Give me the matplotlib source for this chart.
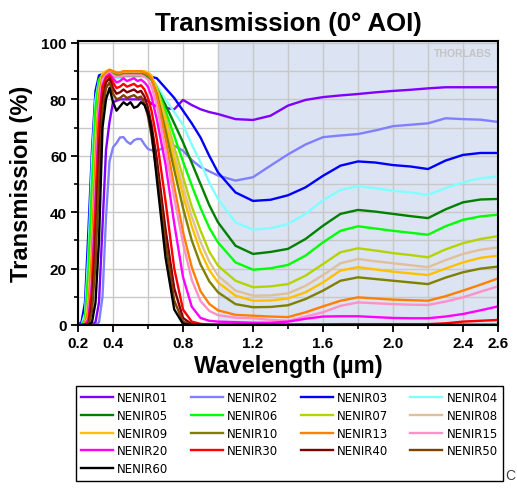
import matplotlib.pyplot as plt

plt.rcParams['font.family'] = ['Liberation Sans', 'DejaVu Sans']

# wavelength grid (um) and transmission (%)
wavelength = [0.20, 0.22, 0.24, 0.26, 0.28, 0.30, 0.32, 0.34, 0.36, 0.38,
              0.40, 0.42, 0.44, 0.46, 0.48, 0.50, 0.52, 0.54, 0.56, 0.58, 0.60, 0.62,
              0.65, 0.70, 0.75, 0.80, 0.85, 0.90, 0.95, 1.00,
              1.10, 1.20, 1.30, 1.40, 1.50, 1.60, 1.70, 1.80, 1.90, 2.00, 2.10, 2.20, 2.30, 2.40, 2.50, 2.60]

nenir01 = [0, 0, 0, 0, 0, 1, 8, 35, 62, 72,
           79, 79.5, 80, 80, 80, 80, 80, 80, 80, 80, 79.5, 78.5,
           77.5, 77, 76.5, 79.8, 78, 76.5, 75.5, 74.8,
           73, 72.7, 74.2, 77.8, 79.8, 80.8, 81.4, 81.9, 82.5, 83, 83.4, 83.9, 84.3, 84.3, 84.3, 84.3]
nenir02 = [0, 0, 0, 0, 0, 0, 1, 10, 38, 58,
           63, 64.5, 66.5, 66.6, 65, 64.2, 65.5, 66, 65.9, 64, 62.4, 62,
           61.8, 63, 63.6, 61.8, 58.5, 56, 54.5, 53,
           51.2, 52.4, 56.5, 60.5, 64, 66.6, 67.2, 67.7, 69, 70.5, 71, 71.5, 73.3, 73, 72.8, 72]
nenir03 = [0, 1, 8, 34, 62, 83, 88.5, 89, 89, 89,
           88.5, 88, 88, 88.5, 88.5, 88.5, 88.5, 88.5, 88.5, 88.5, 88.3, 88,
           87.5, 84, 80.5, 76, 71.5, 66.5, 60, 54.1,
           47, 44, 44.4, 46, 48.8, 52.9, 56.5, 58, 57.6, 56.7, 56.2, 55.3, 58.3, 60.3, 61, 61]
nenir04 = [0, 0, 4, 26, 58, 80, 87, 88, 88, 88.5,
           88, 87.5, 87.5, 88, 88, 88, 88, 88, 88, 88, 87.5, 87,
           85, 80, 75.5, 71, 64, 57.7, 50.5, 44.7,
           36.4, 33.8, 34.3, 35.8, 39.4, 44.2, 47.9, 49.2, 48.5, 47.6, 47, 46.1, 48.5, 50.6, 52, 52.7]
nenir05 = [0, 0, 1, 15, 42, 72, 85, 88.5, 88.5, 89,
           88.5, 88, 88, 88.5, 88.5, 88.5, 88.5, 88.5, 88.5, 88.5, 88, 87,
           84, 78, 71.5, 64.8, 57.5, 50, 42.5, 36.4,
           28.1, 25.2, 25.9, 27, 30.5, 35.2, 39.4, 40.8, 40.2, 39.4, 38.6, 37.9, 41, 43.5, 44.5, 44.7]
nenir06 = [0, 0, 2, 20, 50, 77, 87, 89, 89, 89.5,
           89, 88.5, 88.5, 89, 89, 89, 89, 89, 89, 89, 88.5, 87.5,
           84, 76, 67, 58, 49.5, 41.5, 34.5, 29.3,
           22.2, 19.6, 20.1, 21.3, 24.6, 29.3, 33.4, 35, 34.2, 33.4, 32.7, 32, 35, 37.3, 38.5, 39.1]
nenir07 = [0, 0, 0.5, 10, 33, 66, 84, 89, 89.5, 90,
           89.5, 89, 89, 89.5, 89.5, 89.5, 89.5, 89.5, 89.5, 89.5, 89, 88,
           84, 74, 63, 52.5, 42, 33.5, 26, 21,
           15.7, 13.4, 13.7, 14.5, 17.5, 21.6, 25.8, 27.2, 26.4, 25.5, 24.8, 24, 26.8, 29, 30.5, 31.5]
nenir08 = [0, 0, 0.5, 8, 30, 63, 83, 89, 89.5, 90,
           89.5, 89, 89, 89.5, 89.5, 89.5, 89.5, 89.5, 89.5, 89.5, 89, 88,
           83.5, 72.5, 60.5, 49, 38.5, 29.5, 22.5, 17.5,
           12.2, 10.4, 10.5, 11.2, 13.9, 17.7, 21.9, 23.4, 22.6, 21.9, 21.2, 20.5, 23, 25.2, 26.7, 27.5]
nenir09 = [0, 0, 0.5, 7, 27, 60, 82, 89, 90, 90.5,
           90, 89.5, 89.5, 90, 90, 90, 90, 90, 90, 90, 89.5, 88.5,
           83.5, 71.5, 58.5, 46, 35, 26, 19.5, 15.1,
           10.4, 8.6, 8.7, 9.4, 11.6, 15.1, 19.3, 20.5, 19.7, 18.9, 18.3, 17.7, 20, 22.2, 23.8, 24.6]
nenir10 = [0, 0, 0, 5, 23, 55, 80, 88, 89, 89.5,
           89, 88.5, 88.5, 89, 89, 89, 89, 89, 89, 89, 88.5, 87,
           82, 69, 55, 41.5, 30, 21.5, 15.5, 11.6,
           7.4, 6.3, 6.4, 7, 9.2, 12.2, 15.7, 16.9, 16.3, 15.7, 15.1, 14.5, 16.8, 18.7, 20, 20.7]
nenir13 = [0, 0, 0, 5, 24, 56, 80, 88, 89.5, 90.5,
           90, 89.5, 89.5, 90, 90, 90, 90, 90, 90, 89.5, 89, 87.5,
           81, 66, 49, 33, 20.5, 12, 7.5, 5.2,
           3.6, 3.3, 3, 2.8, 4.5, 6.6, 8.6, 9.8, 9.4, 9, 8.8, 8.6, 10.2, 12.2, 14.3, 16.5]
nenir15 = [0, 0, 0, 3, 18, 48, 77, 87, 88.5, 89.5,
           88.5, 88, 88, 88.5, 88.5, 88.5, 88.5, 88.5, 88.5, 88, 87, 84.5,
           78, 62, 45, 29, 16, 8.5, 5, 3.5,
           2.6, 2.4, 1.8, 1.5, 3, 4.5, 6.8, 8, 7.7, 7.4, 7.2, 7.1, 8.3, 9.8, 11.8, 13.7]
nenir20 = [0, 0, 0, 2, 15, 44, 74, 85, 88, 89,
           87.5, 86, 86.5, 87.5, 86.5, 87, 87.5, 86.5, 87, 86, 84.5, 81,
           73, 57, 36, 17, 6.5, 2.5, 1.5, 1.2,
           1, 0.8, 0.8, 1.2, 2.2, 3, 3.1, 3.1, 2.8, 2.5, 2.4, 2.4, 3, 3.9, 5.2, 6.6]
nenir30 = [0, 0, 0, 1, 12, 40, 70, 84, 87.5, 88.5,
           86, 84, 84.5, 85.5, 84.5, 85, 85.5, 84.5, 85, 83.5, 80.5, 76,
           66, 44, 20, 5.5, 1.2, 0.4, 0.2, 0.1,
           0.1, 0.1, 0.1, 0.1, 0.2, 0.2, 0.3, 0.3, 0.3, 0.3, 0.3, 0.3, 0.6, 1.2, 1.5, 1.8]
nenir40 = [0, 0, 0, 0, 8, 30, 62, 80, 86, 87.5,
           84, 82, 82.5, 83.5, 82.5, 83, 83.5, 82.5, 83, 81, 77, 71,
           59, 34, 13, 2.5, 0.3, 0, 0, 0,
           0, 0, 0, 0, 0, 0, 0, 0, 0, 0, 0, 0, 0, 0, 0, 0]
nenir50 = [0, 0, 0, 0, 5, 22, 52, 76, 84, 86,
           82, 80, 80.5, 81.5, 80.5, 81, 81.5, 80.5, 81, 78.5, 74, 67,
           54, 29.3, 8.6, 1.2, 0.1, 0, 0, 0,
           0, 0, 0, 0, 0, 0, 0, 0, 0, 0, 0, 0, 0, 0, 0, 0]
nenir60 = [0, 0, 0, 0, 1, 8, 30, 70, 80, 84,
           79, 76, 77.5, 79, 78, 79, 77, 77.5, 79, 78, 75, 69,
           52, 24, 5.5, 0.4, 0, 0, 0, 0,
           0, 0, 0, 0, 0, 0, 0, 0, 0, 0, 0, 0, 0, 0, 0, 0]

labels = ['NENIR01', 'NENIR02', 'NENIR03', 'NENIR04', 'NENIR05', 'NENIR06',
          'NENIR07', 'NENIR08', 'NENIR09', 'NENIR10', 'NENIR13', 'NENIR15',
          'NENIR20', 'NENIR30', 'NENIR40', 'NENIR50', 'NENIR60']
colors = ['#8000ff', '#8080ff', '#0000ff', '#80ffff', '#008000', '#00ff00',
          '#b4d400', '#e0c098', '#ffc000', '#808000', '#ff8000', '#ff90c8',
          '#ff00ff', '#ff0000', '#800000', '#804000', '#000000']
series = [nenir01, nenir02, nenir03, nenir04, nenir05, nenir06, nenir07, nenir08,
          nenir09, nenir10, nenir13, nenir15, nenir20, nenir30, nenir40, nenir50, nenir60]

fig = plt.figure(figsize=(5.17, 4.89), dpi=100)
ax = fig.add_axes([78 / 517, 1 - 326 / 489, 420 / 517, 284 / 489])

# NIR region shading
ax.axvspan(1.0, 2.6, color='#dce3f3', lw=0, zorder=0)

lines = []
for lab, col, vals in zip(labels, colors, series):
    ln, = ax.plot(wavelength, vals, color=col, lw=1.7, label=lab)
    lines.append(ln)

ax.set_xlim(0.2, 2.6)
ax.set_ylim(0, 100.7)
ax.set_xticks([0.2, 0.4, 0.8, 1.2, 1.6, 2.0, 2.4, 2.6])
ax.set_xticklabels(['0.2', '0.4', '0.8', '1.2', '1.6', '2.0', '2.4', '2.6'])
ax.set_xticks([0.6, 1.0, 1.4, 1.8, 2.2], minor=True)
ax.set_yticks([0, 20, 40, 60, 80, 100])
ax.set_yticks([10, 30, 50, 70, 90], minor=True)
ax.set_axisbelow(True)
ax.grid(True, which='both', color='#c8c8c8', lw=1)
ax.tick_params(which='major', direction='out', length=5, width=1.3, labelsize=11, pad=3)
ax.tick_params(which='minor', direction='out', length=3, width=1.2)
for t in ax.get_xticklabels() + ax.get_yticklabels():
    t.set_fontweight('bold')
for s in ax.spines.values():
    s.set_linewidth(1.5)
    s.set_color('black')

ax.set_title('Transmission (0° AOI)', fontsize=18.5, fontweight='bold', pad=8)
ax.set_xlabel('Wavelength (µm)', fontsize=17, fontweight='bold', labelpad=3)
ax.set_ylabel('Transmission (%)', fontsize=17, fontweight='bold', labelpad=6)

ax.text(0.986, 0.958, 'THORLABS', transform=ax.transAxes, ha='right', va='center',
        fontsize=7.5, fontweight='bold', color='#c4c4c4')

# legend laid out row by row like the original
order = [0, 4, 8, 12, 16, 1, 5, 9, 13, 2, 6, 10, 14, 3, 7, 11, 15]
leg = fig.legend([lines[i] for i in order], [labels[i] for i in order], ncol=4,
                 loc='upper left', bbox_to_anchor=(76 / 517, 1 - 480 / 489, 427 / 517, 93 / 489),
                 mode='expand', borderaxespad=0, prop={'family': 'DejaVu Sans', 'size': 8.5},
                 handlelength=2.7, handletextpad=0.35, labelspacing=0.4, borderpad=0.45,
                 fancybox=False, edgecolor='black', framealpha=1)
leg.get_frame().set_linewidth(1.0)

fig.text(505 / 517, 1 - 476 / 489, 'C', fontsize=10, color='#404040', ha='left', va='center')

fig.savefig('out.png', dpi=100)
